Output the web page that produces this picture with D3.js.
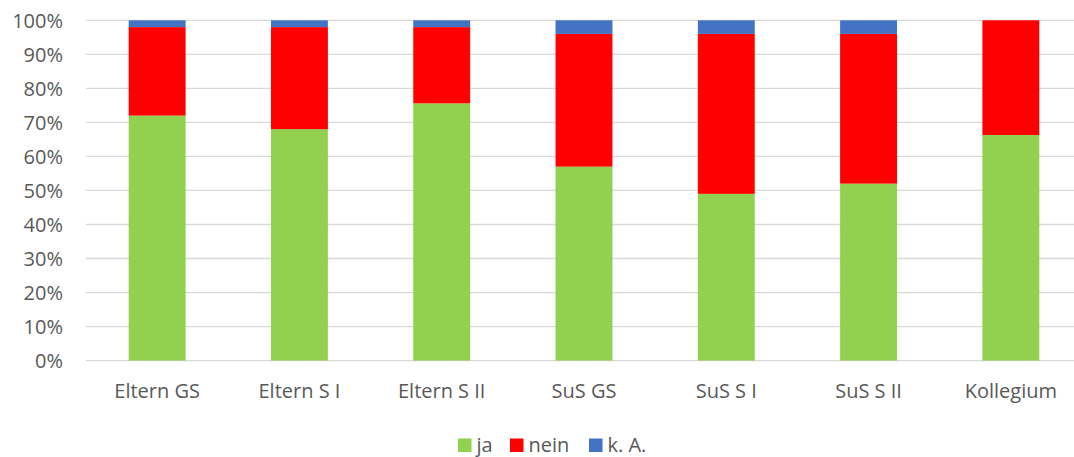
<!DOCTYPE html>
<html>
<head>
<meta charset="utf-8">
<script src="https://cdn.jsdelivr.net/npm/d3@7"></script>
<style>
  html, body { margin: 0; padding: 0; background: #fff; }
  svg { display: block; }
  text { font-family: "Open Sans", sans-serif; fill: #595959; }
</style>
</head>
<body>
<svg id="chart" width="1074" height="457"></svg>
<script>
const categories = ["Eltern GS", "Eltern S I", "Eltern S II", "SuS GS", "SuS S I", "SuS S II", "Kollegium"];
const seriesNames = ["ja", "nein", "k. A."];
const ja   = [72, 68, 75.6, 57, 49, 52, 66.3];
const nein = [26, 30, 22.4, 39, 47, 44, 33.7];
const kA   = [2, 2, 2, 4, 4, 4, 0];
const yTicks = [0, 10, 20, 30, 40, 50, 60, 70, 80, 90, 100];
const colors = ["#92D050", "#FF0000", "#4472C4"];

const svg = d3.select("#chart");
const W = 1074, H = 457;
const plot = { left: 86, right: 1082, top: 20.3, bottom: 360.6 };

const x = d3.scaleBand().domain(categories).range([plot.left, plot.right]).paddingInner(0.6).paddingOuter(0.3);
const y = d3.scaleLinear().domain([0, 100]).range([plot.bottom, plot.top]);

// gridlines
svg.append("g").selectAll("line").data(yTicks).join("line")
  .attr("x1", plot.left).attr("x2", plot.right)
  .attr("y1", d => y(d)).attr("y2", d => y(d))
  .attr("stroke", "#d9d9d9").attr("stroke-width", 1.3);

// y labels
const yAxis = d3.axisLeft(y).tickValues(yTicks).tickFormat(d => d + "%").tickSize(0).tickPadding(0);
const gy = svg.append("g").attr("transform", `translate(63,0)`).call(yAxis);
gy.select(".domain").remove();
gy.selectAll("text").attr("font-size", 20).attr("font-family", "Open Sans, sans-serif").attr("fill", "#595959").attr("dy", "0.35em");

// stacked data
const rows = categories.map((c, i) => ({ cat: c, "ja": ja[i], "nein": nein[i], "k. A.": kA[i] }));
const stack = d3.stack().keys(seriesNames)(rows);

svg.append("g").selectAll("g").data(stack).join("g")
  .attr("fill", (d, i) => colors[i])
  .selectAll("rect").data(d => d).join("rect")
  .attr("x", d => x(d.data.cat))
  .attr("width", x.bandwidth())
  .attr("y", d => y(d[1]))
  .attr("height", d => y(d[0]) - y(d[1]));

// x labels
const xAxis = d3.axisBottom(x).tickSize(0).tickPadding(0);
const gx = svg.append("g").attr("transform", `translate(0,398)`).call(xAxis);
gx.select(".domain").remove();
gx.selectAll("text").attr("font-size", 20).attr("font-family", "Open Sans, sans-serif").attr("fill", "#595959").attr("dy", 0).attr("y", 0);

// legend
const legendX = [458, 510, 589];
const lg = svg.append("g");
seriesNames.forEach((name, i) => {
  lg.append("rect").attr("x", legendX[i]).attr("y", 438.5).attr("width", 13.5).attr("height", 13.5).attr("fill", colors[i]);
  lg.append("text").attr("x", legendX[i] + 18.5).attr("y", 452).attr("font-size", 20).text(name);
});
</script>
</body>
</html>
